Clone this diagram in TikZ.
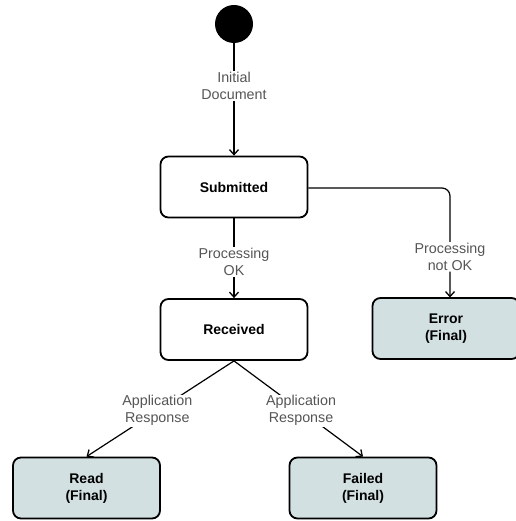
\documentclass[tikz,border=0pt]{standalone}
\usepackage{fontspec}
\setmainfont{Liberation Sans}
\usetikzlibrary{arrows.meta}
\definecolor{finalfill}{HTML}{D3E0E2}
\definecolor{labelgray}{HTML}{555555}
\begin{document}
\begin{tikzpicture}[x=1pt,y=-1pt,
  state/.style={draw=black, line width=1.8pt, rounded corners=8pt, minimum width=147pt, minimum height=61pt, align=center, font=\fontsize{14}{17}\selectfont\bfseries, inner sep=0pt},
  final/.style={state, fill=finalfill},
  edge/.style={draw=black, line width=1.2pt, -{Straight Barb[length=5pt,width=9pt,line width=1.3pt]}},
  lbl/.style={fill=white, text=labelgray, align=center, font=\fontsize{14.3}{17}\selectfont, inner sep=1pt}]
\useasboundingbox (0,0) rectangle (515,521);
\node[circle, fill=black, minimum size=38pt, inner sep=0pt] (init) at (234,24) {};
\node[state] (sub) at (234,187) {Submitted};
\node[state] (rec) at (234,329.5) {Received};
\node[final] (err) at (446,328.5) {Error\\(Final)};
\node[final] (read) at (86.5,488) {Read\\(Final)};
\node[final] (fail) at (363,488) {Failed\\(Final)};
\coordinate (turn) at (450,188);
\draw[edge] (init) -- (sub.north) node[lbl, pos=0.38] {Initial\\Document};
\draw[edge] (sub) -- (rec) node[lbl, pos=0.55] {Processing\\OK};
\draw[edge, rounded corners=8pt] (sub.east |- turn) -- (turn) -- (450,297.5) node[lbl, pos=0.63] {Processing\\not OK};
\draw[edge] (rec.south) -- (read.north) node[lbl, pos=0.52] {Application\\Response};
\draw[edge] (rec.south) -- (fail.north) node[lbl, pos=0.52] {Application\\Response};
\end{tikzpicture}
\end{document}
